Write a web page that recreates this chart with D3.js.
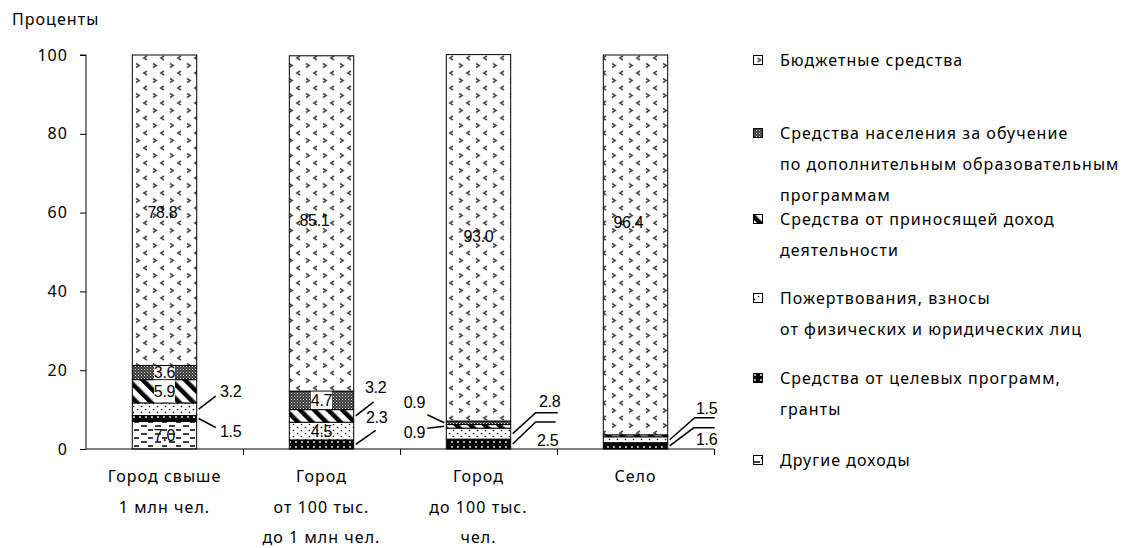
<!DOCTYPE html>
<html><head><meta charset="utf-8">
<script src="https://cdn.jsdelivr.net/npm/d3@7"></script>
<style>
body{margin:0;background:#fff;}
svg{display:block;}
.txt{font-family:"Noto Sans","DejaVu Sans",sans-serif;font-size:16px;letter-spacing:1.05px;fill:#000;}
.num{font-family:"Liberation Sans Narrow","Liberation Sans",sans-serif;font-size:16px;letter-spacing:-0.3px;fill:#000;}
</style></head>
<body><svg id="c" width="1133" height="548"></svg>
<script>
// ---- data ----
const categories = [["Город свыше","1 млн чел."],["Город","от 100 тыс.","до 1 млн чел."],["Город","до 100 тыс.","чел."],["Село"]];
const other      = [7.0, 0, 0, 0];
const targeted   = [1.5, 2.3, 2.5, 1.6];
const donations  = [3.2, 4.5, 2.8, 1.5];
const income     = [5.9, 3.2, 0.9, 0.5];
const population = [3.6, 4.7, 0.9, 0];
const budget     = [78.8, 85.1, 93.0, 96.4];
const yTicks = [0, 20, 40, 60, 80, 100];
const yTitle = "Проценты";
const seriesKeys = ["other","targeted","donations","income","population","budget"];
const seriesNames = {
  budget:["Бюджетные средства"],
  population:["Средства населения за обучение","по дополнительным образовательным","программам"],
  income:["Средства от приносящей доход","деятельности"],
  donations:["Пожертвования, взносы","от физических и юридических лиц"],
  targeted:["Средства от целевых программ,","гранты"],
  other:["Другие доходы"]
};
const legendOrder = ["budget","population","income","donations","targeted","other"];
// labels shown inside bars: [group, series]
const insideLabels = [[0,"budget"],[0,"population"],[0,"income"],[0,"other"],[1,"budget"],[1,"population"],[1,"donations"],[2,"budget"],[3,"budget"]];
const boxedLabels = [[0,"population"],[0,"income"],[1,"population"]];
// labels outside bars with leaders: [group, series, side]
const outsideLabels = [[0,"donations","right"],[0,"targeted","right"],[1,"income","right"],[1,"targeted","right"],
  [2,"population","left"],[2,"income","left"],[2,"donations","right"],[2,"targeted","right"],[3,"donations","right"],[3,"targeted","right"]];
// ---- layout (offsets in px) ----
const insideOffsets = [[-2,2],[0,0],[0,0],[0,0],[-7,-3],[0,0],[0,0],[0,-1],[-7,-22]];
const leaderLayout = [
  {leader:[[17,-13]], text:[32,-18]},
  {leader:[[17,9]], text:[32,13]},
  {leader:[[18,-14]], text:[20,-28]},
  {leader:[[20,-14]], text:[21,-27]},
  {leader:[[-17,-8]], text:[-30,-20]},
  {leader:[[-17,2]], text:[-30,6]},
  {leader:[[23,-21],[45,-21]], text:[37,-32]},
  {leader:[[23,-22],[43,-22]], text:[35,-4]},
  {leader:[[25,-22],[45,-22]], text:[37,-31]},
  {leader:[[24,-18],[45,-18]], text:[37,-6]}
];
const legendY = [60,133,219,298,378,460];

const dataMap = {other,targeted,donations,income,population,budget};
const svg = d3.select("#c");
const M = {left:86, right:714, top:55, bottom:449};
const x = d3.scaleBand().domain(d3.range(categories.length)).range([M.left,M.right]).paddingInner(0.59).paddingOuter(0.295);
const y = d3.scaleLinear().domain([0,100]).range([M.bottom,M.top]);

// patterns
const defs = svg.append("defs");
function budgetPattern(id, px, py){
  const p = defs.append("pattern").attr("id",id).attr("patternUnits","userSpaceOnUse").attr("width",17).attr("height",15).attr("x",px).attr("y",py);
  p.append("rect").attr("width",17).attr("height",15).attr("fill","#fff");
  p.append("path").attr("d","M3,1.5 L6.2,3.5 L3,5.5").attr("fill","none").attr("stroke","#4a4a4a").attr("stroke-width",1.5);
  p.append("path").attr("d","M14,9 L10.8,11 L14,13").attr("fill","none").attr("stroke","#4a4a4a").attr("stroke-width",1.5);
}
budgetPattern("p_budget",133,2);
budgetPattern("pl_budget",1.5,-3.5);
let p;
p = defs.append("pattern").attr("id","p_population").attr("patternUnits","userSpaceOnUse").attr("width",3).attr("height",3);
p.append("rect").attr("width",3).attr("height",3).attr("fill","#3a3a3a");
p.append("rect").attr("x",0).attr("y",0).attr("width",1).attr("height",1).attr("fill","#ddd");
p.append("rect").attr("x",1.5).attr("y",1.5).attr("width",1).attr("height",1).attr("fill","#aaa");

p = defs.append("pattern").attr("id","p_income").attr("patternUnits","userSpaceOnUse").attr("width",10).attr("height",10).attr("patternTransform","rotate(-45)");
p.append("rect").attr("width",10).attr("height",10).attr("fill","#fff");
p.append("rect").attr("width",4.5).attr("height",10).attr("fill","#000");

p = defs.append("pattern").attr("id","p_donations").attr("patternUnits","userSpaceOnUse").attr("width",8).attr("height",6);
p.append("rect").attr("width",8).attr("height",6).attr("fill","#fff");
p.append("circle").attr("cx",1.5).attr("cy",1.5).attr("r",0.8).attr("fill","#000");
p.append("circle").attr("cx",5.5).attr("cy",4.5).attr("r",0.8).attr("fill","#000");

p = defs.append("pattern").attr("id","p_targeted").attr("patternUnits","userSpaceOnUse").attr("width",6).attr("height",5);
p.append("rect").attr("width",6).attr("height",5).attr("fill","#000");
p.append("circle").attr("cx",2).attr("cy",2).attr("r",0.9).attr("fill","#fff");

p = defs.append("pattern").attr("id","p_other").attr("patternUnits","userSpaceOnUse").attr("width",14).attr("height",8);
p.append("rect").attr("width",14).attr("height",8).attr("fill","#fff");
p.append("path").attr("d","M1,2 h6 M8,6 h5").attr("stroke","#000").attr("stroke-width",1.3);

// stacked data
const rows = categories.map((c,i)=>{const o={i}; seriesKeys.forEach(k=>o[k]=dataMap[k][i]); return o;});
const stack = d3.stack().keys(seriesKeys)(rows);
const seg = {};
stack.forEach(s=>s.forEach((d,i)=>{(seg[i]=seg[i]||{})[s.key]=[d[0],d[1]];}));

// y axis
const yAx = svg.append("g").attr("transform",`translate(${M.left},0)`)
  .call(d3.axisLeft(y).tickValues(yTicks).tickSize(6).tickPadding(12));
yAx.attr("font-size",null).attr("font-family",null);
yAx.select(".domain").attr("stroke","#000").attr("d",`M-6,${y(100)}H0V${y(0)}`);
yAx.selectAll("text").attr("class","txt");
svg.append("text").attr("class","txt").attr("x",12).attr("y",25).text(yTitle);

// bars
stack.forEach(s=>{
  svg.append("g").selectAll("rect").data(s.filter(d=>d[1]-d[0]>0)).join("rect")
    .attr("x",d=>x(d.data.i)).attr("width",x.bandwidth())
    .attr("y",d=>y(d[1])).attr("height",d=>y(d[0])-y(d[1]))
    .attr("fill",`url(#p_${s.key})`).attr("stroke","#000").attr("stroke-width",1);
});

// x axis
const xb = d3.scaleLinear().domain([0,categories.length]).range([M.left,M.right]);
const xAx = svg.append("g").attr("transform",`translate(0,${M.bottom})`)
  .call(d3.axisBottom(xb).tickValues(d3.range(1,categories.length+1)).tickSize(6).tickFormat(""));
xAx.select(".domain").attr("stroke","#000").attr("d",`M${M.left},0H${M.right}`);
categories.forEach((lines,i)=>{
  const t = svg.append("text").attr("class","txt").attr("text-anchor","middle");
  lines.forEach((l,j)=>t.append("tspan").attr("x",x(i)+x.bandwidth()/2).attr("y",482+j*30.5).text(l));
});

// inside labels
const isBoxed=(g,k)=>boxedLabels.some(b=>b[0]===g&&b[1]===k);
insideLabels.forEach(([g,k],n)=>{
  const [a,b]=seg[g][k]; const cx=x(g)+x.bandwidth()/2, cy=y((a+b)/2);
  const [ox,oy]=insideOffsets[n];
  if(isBoxed(g,k)) svg.append("rect").attr("x",cx-10.5).attr("width",21).attr("y",y(b)+0.5).attr("height",y(a)-y(b)-1).attr("fill","#fff");
  svg.append("text").attr("class","num").attr("x",cx+ox).attr("y",cy+oy).attr("text-anchor","middle").attr("dominant-baseline","central").text(dataMap[k][g].toFixed(1));
});

// outside labels
outsideLabels.forEach(([g,k,side],n)=>{
  const [a,b]=seg[g][k]; const L=leaderLayout[n];
  const ax = side==="right"? x(g)+x.bandwidth()+2 : x(g)-2; const ay=y((a+b)/2);
  const pts=[[ax,ay]].concat(L.leader.map(([dx,dy])=>[ax+dx,ay+dy]));
  svg.append("path").attr("d",d3.line()(pts)).attr("fill","none").attr("stroke","#000").attr("stroke-width",1.5);
  svg.append("text").attr("class","num").attr("x",ax+L.text[0]).attr("y",ay+L.text[1]).attr("text-anchor","middle").attr("dominant-baseline","central").text(dataMap[k][g].toFixed(1));
});

// legend
legendOrder.forEach((k,i)=>{
  const g=svg.append("g").attr("transform",`translate(753,${legendY[i]})`);
  const fill = k==="budget" ? "url(#pl_budget)" : `url(#p_${k})`;
  g.append("rect").attr("x",0.5).attr("y",-4.5).attr("width",9).attr("height",9).attr("fill",fill).attr("stroke","#000").attr("stroke-width",1);
  const t=g.append("text").attr("class","txt");
  seriesNames[k].forEach((l,j)=>t.append("tspan").attr("x",27).attr("y",5.5+j*31).text(l));
});
</script></body></html>
